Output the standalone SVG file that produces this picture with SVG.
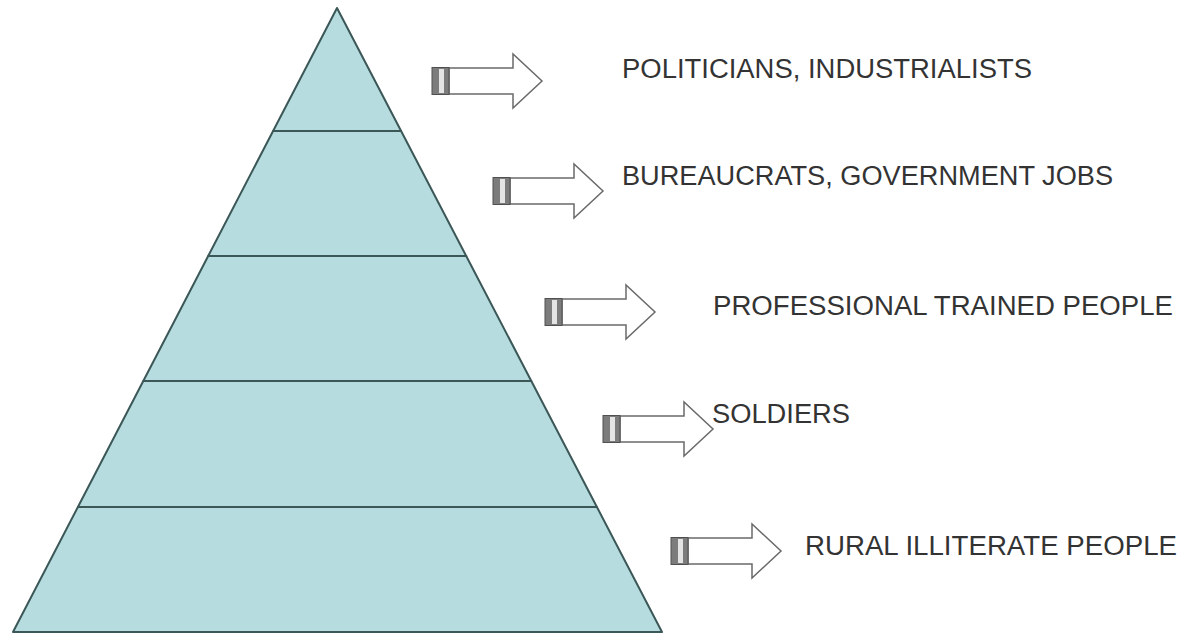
<svg xmlns="http://www.w3.org/2000/svg" width="1186" height="638" viewBox="0 0 1186 638">
<style>
.band{fill:#b6dcdf;stroke:#3c5757;stroke-width:2;stroke-linejoin:round}
.lbl{font-family:"Liberation Sans",Arial,sans-serif;font-size:27px;fill:#333}
.cap{fill:#7c7c7c;stroke:#505050;stroke-width:1}
.capbar{fill:#e4e4e4}
.shaft{fill:#fff;stroke:#6a6a6a;stroke-width:1.5;stroke-linejoin:miter}
</style>
<defs>
<g id="arrow">
<path class="shaft" d="M17,-13 H81 V-27 L110,0 L81,27 V13 H17 Z"/>
<rect class="cap" x="0" y="-13.5" width="17" height="27"/>
<rect class="capbar" x="7" y="-12" width="5" height="24"/>
</g>
</defs>
<rect width="1186" height="638" fill="#fff"/>
<g id="pyramid">
<g id="level1"><polygon class="band" points="337,8 401.1,131 273.1,131"/></g>
<g id="level2"><polygon class="band" points="273.1,131 401.1,131 466.2,256 208.2,256"/></g>
<g id="level3"><polygon class="band" points="208.2,256 466.2,256 531.3,381 143.3,381"/></g>
<g id="level4"><polygon class="band" points="143.3,381 531.3,381 596.9,507 77.9,507"/></g>
<g id="level5"><polygon class="band" points="77.9,507 596.9,507 662,632 13,632"/></g>
</g>
<g id="connectors">
<use href="#arrow" transform="translate(432,81)"/>
<use href="#arrow" transform="translate(493,191)"/>
<use href="#arrow" transform="translate(545,312)"/>
<use href="#arrow" transform="translate(603,429)"/>
<use href="#arrow" transform="translate(671,551)"/>
</g>
<g id="label1"><text class="lbl" x="622" y="78" textLength="410" lengthAdjust="spacingAndGlyphs">POLITICIANS, INDUSTRIALISTS</text></g>
<g id="label2"><text class="lbl" x="622" y="185" textLength="491" lengthAdjust="spacingAndGlyphs">BUREAUCRATS, GOVERNMENT JOBS</text></g>
<g id="label3"><text class="lbl" x="713" y="315" textLength="460" lengthAdjust="spacingAndGlyphs">PROFESSIONAL TRAINED PEOPLE</text></g>
<g id="label4"><text class="lbl" x="712" y="423" textLength="138" lengthAdjust="spacingAndGlyphs">SOLDIERS</text></g>
<g id="label5"><text class="lbl" x="805" y="555" textLength="372" lengthAdjust="spacingAndGlyphs">RURAL ILLITERATE PEOPLE</text></g>
</svg>
